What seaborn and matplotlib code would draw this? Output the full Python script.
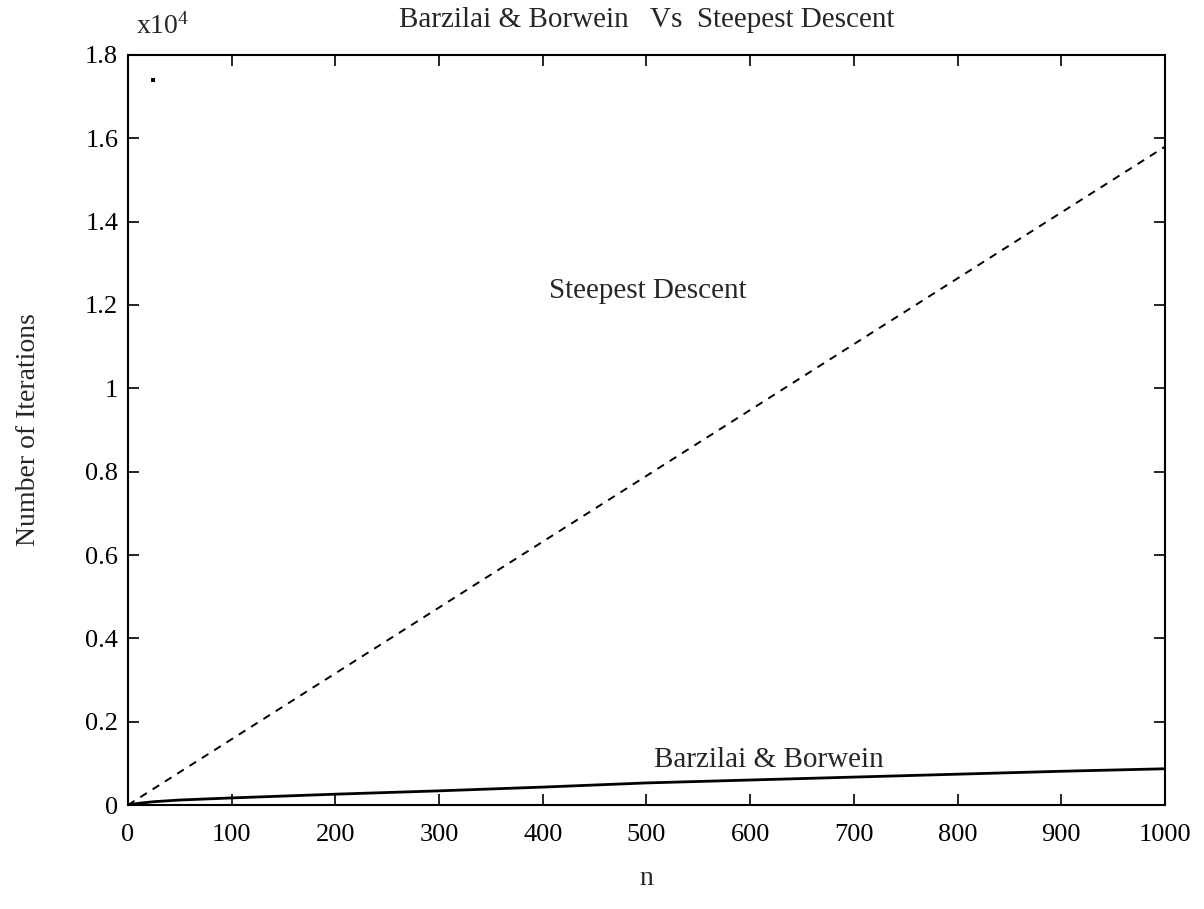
import numpy as np
import pandas as pd
import matplotlib
matplotlib.use("Agg")
import matplotlib.pyplot as plt
from matplotlib.ticker import FuncFormatter
import seaborn as sns

# ---- data ----
n_values = [0, 100, 200, 300, 400, 500, 600, 700, 800, 900, 1000]
sd_iterations = [0, 1580, 3160, 4740, 6320, 7900, 9480, 11060, 12640, 14220, 15800]

bb_n = [0, 10, 25, 50, 100, 200, 300, 400, 500, 600, 700, 800, 900, 1000]
bb_iterations = [0, 40, 80, 120, 170, 260, 340, 430, 530, 600, 670, 740, 810, 870]

speck_n = [24]
speck_iter = [17400]

x_ticks = [0, 100, 200, 300, 400, 500, 600, 700, 800, 900, 1000]
y_ticks = [0, 2000, 4000, 6000, 8000, 10000, 12000, 14000, 16000, 18000]

title = "Barzilai & Borwein   Vs  Steepest Descent"
x_label = "n"
y_label = "Number of Iterations"
sd_label = "Steepest Descent"
bb_label = "Barzilai & Borwein"

# ---- style ----
sns.set_style("ticks")
plt.rcParams["font.family"] = ["Liberation Serif", "DejaVu Serif"]
plt.rcParams["mathtext.fontset"] = "custom"
plt.rcParams["mathtext.rm"] = "Liberation Serif"
plt.rcParams["mathtext.it"] = "Liberation Serif:italic"

fig = plt.figure(figsize=(12.04, 9.09), dpi=100)
ax = fig.add_axes([0.1063, 0.1144, 0.8613, 0.8251])

sd_df = pd.DataFrame({"n": n_values, "iters": sd_iterations})
bb_df = pd.DataFrame({"n": bb_n, "iters": bb_iterations})

sns.lineplot(data=sd_df, x="n", y="iters", ax=ax, color="black",
             linewidth=1.4, linestyle=(0, (4, 3.5)))
sns.lineplot(data=bb_df, x="n", y="iters", ax=ax, color="black",
             linewidth=2.0)
sns.scatterplot(x=speck_n, y=speck_iter, ax=ax, color="black", s=6,
                marker="s", linewidth=0)

ax.set_xlim(0, 1000)
ax.set_ylim(0, 18000)
ax.set_xticks(x_ticks)
ax.set_yticks(y_ticks)
ax.yaxis.set_major_formatter(FuncFormatter(lambda v, p: f"{v/1e4:g}"))

ax.tick_params(axis="both", which="both", direction="in", length=8,
               width=1.2, top=True, right=True, labelsize=19,
               colors="black")
ax.tick_params(axis="x", pad=14)
ax.tick_params(axis="y", pad=7)
for s in ax.spines.values():
    s.set_visible(True)
    s.set_linewidth(1.5)
    s.set_color("black")

ax.set_xlabel(x_label, fontsize=20, labelpad=14)
ax.set_ylabel(y_label, fontsize=20, labelpad=32)
ax.set_title(title, fontsize=21, pad=20)

ax.text(0.008, 1.02, r"x10$^{4}$", transform=ax.transAxes, fontsize=20,
        ha="left", va="bottom")
ax.text(406, 12340, sd_label, fontsize=21, ha="left", va="center")
ax.text(507, 1080, bb_label, fontsize=21, ha="left", va="center")

fig.savefig("out.png", dpi=100, facecolor="white")
